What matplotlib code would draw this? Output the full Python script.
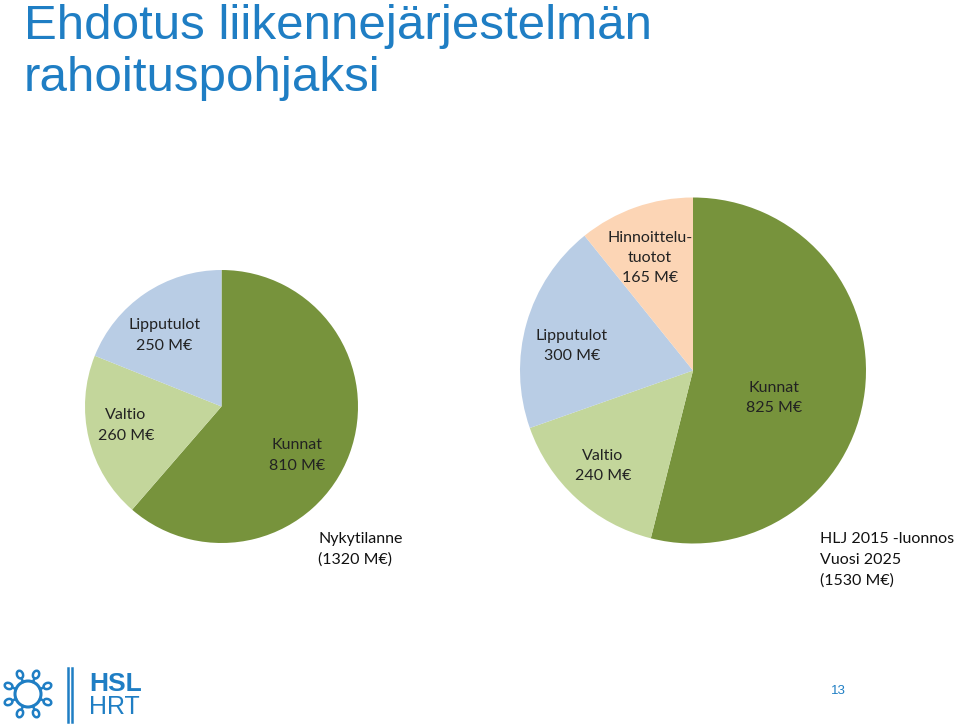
import numpy as np
import matplotlib
matplotlib.use("Agg")
import matplotlib.pyplot as plt
from matplotlib.patches import Circle, Ellipse

# data
nyky_labels = ["Kunnat\n810 M€", "Valtio\n260 M€", "Lipputulot\n250 M€"]
nyky_values = [810, 260, 250]
hlj_labels = ["Kunnat\n825 M€", "Valtio\n240 M€", "Lipputulot\n300 M€", "Hinnoittelu-\ntuotot\n165 M€"]
hlj_values = [825, 240, 300, 165]

green = "#77933C"
light_green = "#C3D69B"
light_blue = "#B9CDE5"
peach = "#FCD5B5"
blue = "#1F7EC4"

W, H = 960, 726
fig = plt.figure(figsize=(W / 100, H / 100), dpi=100)
fig.patch.set_facecolor("white")


def px_axes(cx, cy, r):
    # axes centred on a pixel position (y from top)
    return fig.add_axes([(cx - r) / W, 1 - (cy + r) / H, 2 * r / W, 2 * r / H])


label_font = ["Lato", "DejaVu Sans"]

# vasen piirakka
ax1 = px_axes(221.5, 406.5, 136.5)
ax1.pie(nyky_values, colors=[green, light_green, light_blue], startangle=90,
        counterclock=False, radius=1.0, wedgeprops=dict(linewidth=0))
ax1.set_xlim(-1, 1)
ax1.set_ylim(-1, 1)
ax1.set_aspect("equal")
ax1.axis("off")
pos1 = [(0.55, -0.36), (-0.70, -0.14), (-0.42, 0.52)]
for (x, y), lab in zip(pos1, nyky_labels):
    ax1.text(x, y, lab, ha="center", va="center", fontsize=11.5, color="#222222",
             family=label_font, linespacing=1.7)

# oikea piirakka
ax2 = px_axes(693, 370.5, 173)
ax2.pie(hlj_values, colors=[green, light_green, light_blue, peach], startangle=90,
        counterclock=False, radius=1.0, wedgeprops=dict(linewidth=0))
ax2.set_xlim(-1, 1)
ax2.set_ylim(-1, 1)
ax2.set_aspect("equal")
ax2.axis("off")
pos2 = [(0.47, -0.16), (-0.52, -0.55), (-0.70, 0.14), (-0.25, 0.65)]
for (x, y), lab in zip(pos2, hlj_labels):
    ax2.text(x, y, lab, ha="center", va="center", fontsize=11.5, color="#222222",
             family=label_font, linespacing=1.55)

# otsikko
fig.text(24 / W, 1 - 4 / H, "Ehdotus liikennejärjestelmän\nrahoituspohjaksi",
         ha="left", va="top", fontsize=35.5, color=blue, family="Liberation Sans",
         linespacing=1.2)

# kuvatekstit
fig.text(318 / W, 1 - 532 / H, "Nykytilanne\n(1320 M€)", ha="left", va="top",
         fontsize=11.5, color="#111111", family=label_font, linespacing=1.6)
fig.text(820 / W, 1 - 532 / H, "HLJ 2015 -luonnos\nVuosi 2025\n(1530 M€)", ha="left", va="top",
         fontsize=11.5, color="#111111", family=label_font, linespacing=1.6)

# sivunumero
fig.text(838 / W, 1 - 691 / H, "13", ha="center", va="center", fontsize=9.5,
         color=blue, family="Liberation Sans")

# logo
lax = fig.add_axes([0, 0, 1, 1], facecolor="none")
lax.set_xlim(0, W)
lax.set_ylim(H, 0)
lax.axis("off")
lax.add_patch(Circle((28, 694), 13, fill=False, ec=blue, lw=2.2))
for a in np.arange(8) * 45 + 22.5:
    t = np.deg2rad(a)
    lax.plot([28 + 13 * np.cos(t), 28 + 17 * np.cos(t)],
             [694 + 13 * np.sin(t), 694 + 17 * np.sin(t)], color=blue, lw=1.8)
    lax.add_patch(Ellipse((28 + 21 * np.cos(t), 694 + 21 * np.sin(t)), 8, 6, angle=a,
                          fill=False, ec=blue, lw=1.8))
lax.plot([68, 68], [668, 722], color=blue, lw=1.8)
lax.plot([72, 72], [668, 722], color=blue, lw=1.8)
lax.text(89, 684, "HSL", ha="left", va="center", fontsize=19, fontweight="bold",
         color=blue, family="Liberation Sans")
lax.text(89, 707, "HRT", ha="left", va="center", fontsize=18, color=blue,
         family="Liberation Sans")

fig.savefig("out.png", dpi=100)
